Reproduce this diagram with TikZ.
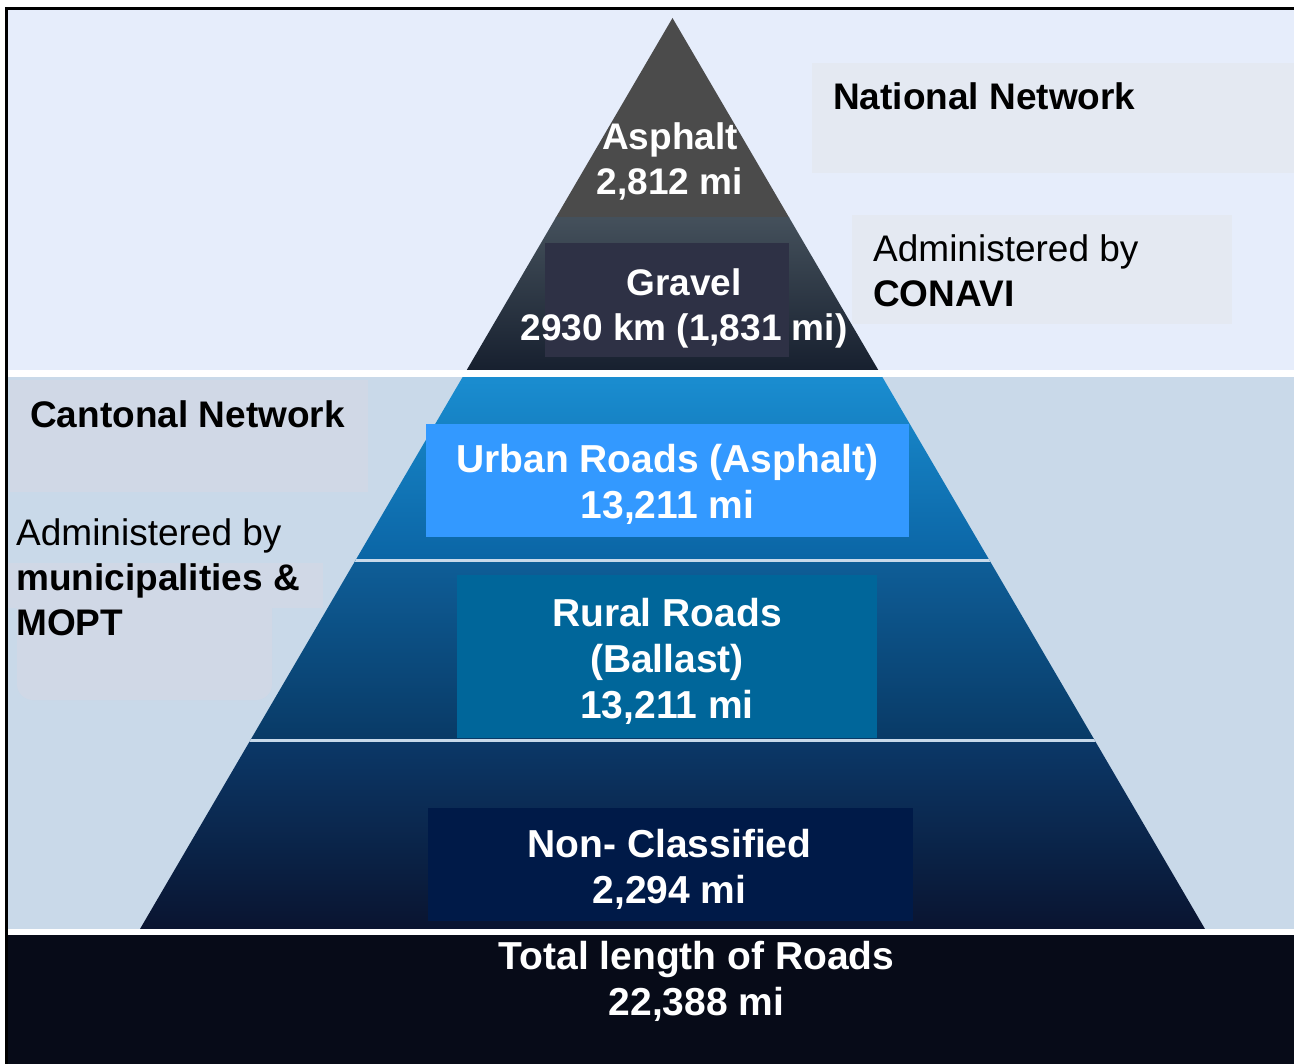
\documentclass[tikz,border=0pt]{standalone}
\usepackage{fontspec}
\setmainfont{Liberation Sans}
\definecolor{topbg}{HTML}{E6EDFB}
\definecolor{cantbg}{HTML}{C9D9E9}
\definecolor{botbg}{HTML}{070B18}
\definecolor{panelA}{HTML}{E4E9F2}
\definecolor{panelB}{HTML}{D0D8E6}
\definecolor{asphaltc}{HTML}{4B4B4B}
\definecolor{gravtop}{HTML}{44505B}
\definecolor{gravbot}{HTML}{17202F}
\definecolor{urbtop}{HTML}{1A8DD0}
\definecolor{urbbot}{HTML}{0B65A5}
\definecolor{rurtop}{HTML}{0E5E98}
\definecolor{rurbot}{HTML}{093A66}
\definecolor{nontop}{HTML}{0B3868}
\definecolor{nonbot}{HTML}{0A1430}
\definecolor{gravbox}{HTML}{2E3145}
\definecolor{urbbox}{HTML}{3399FF}
\definecolor{rurbox}{HTML}{00669A}
\definecolor{nonbox}{HTML}{001A48}
\definecolor{sepc}{HTML}{C8D9EA}
\begin{document}
\begin{tikzpicture}[x=1pt,y=-1pt,
  wlbl/.style={text=white,font=\bfseries\fontsize{39}{46}\selectfont,align=center,inner sep=0pt},
  wlbls/.style={wlbl,font=\bfseries\fontsize{37}{45}\selectfont},
  blbl/.style={text=black,font=\fontsize{37}{45}\selectfont,align=left,inner sep=0pt},
  bblbl/.style={blbl,font=\bfseries\fontsize{37}{45}\selectfont},
  sepline/.style={draw=sepc,line width=3pt}]
\useasboundingbox (0,0) rectangle (1294,1064);
% backgrounds
\fill[white] (0,0) rectangle (1294,1064);
\fill[topbg] (8,9) rectangle (1294,370);
\fill[cantbg] (8,377) rectangle (1294,929);
\fill[botbg] (8,935) rectangle (1294,1064);
% side panels
\fill[panelA] (812,63) rectangle (1294,173);
\fill[panelA] (852,215) rectangle (1232,324);
\fill[panelB] (10,380) rectangle (368,492);
\fill[panelB] (8,563) rectangle (323,608);
\fill[panelB, rounded corners=16pt] (17,563) rectangle (272,700);
% pyramid
\coordinate (apex) at (672.5,18);
\coordinate (bl) at (140,929);
\coordinate (br) at (1205,929);
\begin{scope}
\clip (apex) -- (br) -- (bl) -- cycle;
\fill[asphaltc] (0,0) rectangle (1294,218);
\shade[top color=gravtop,bottom color=gravbot] (0,218) rectangle (1294,370);
\shade[top color=urbtop,bottom color=urbbot] (0,377) rectangle (1294,560);
\shade[top color=rurtop,bottom color=rurbot] (0,560) rectangle (1294,740);
\shade[top color=nontop,bottom color=nonbot] (0,740) rectangle (1294,929);
\draw[sepline] (0,560.5) -- (1294,560.5);
\draw[sepline] (0,740.5) -- (1294,740.5);
\end{scope}
% white separators
\fill[white] (8,370) rectangle (1294,377);
\fill[white] (8,929) rectangle (1294,935);
% borders
\fill[black] (5,7) rectangle (1294,10);
\fill[black] (5,7) rectangle (8,1064);
% label boxes
\fill[gravbox] (545,243) rectangle (789,357);
\fill[urbbox] (426,424) rectangle (909,537);
\fill[rurbox] (457,575) rectangle (877,738);
\fill[nonbox] (428,808) rectangle (913,921);
% texts
\node[wlbls] (asphalt) at (670,161.9) {Asphalt\\2,812 mi};
\node[wlbls] (gravel) at (684,308.2) {Gravel\\2930 km (1,831 mi)};
\node[wlbl] (urban) at (667.5,483.9) {Urban Roads (Asphalt)\\13,211 mi};
\node[wlbl] (rural) at (667,661) {Rural Roads\\(Ballast)\\13,211 mi};
\node[wlbl] (noncl) at (669.5,868.9) {Non- Classified\\2,294 mi};
\node[wlbl] (total) at (696.5,981.4) {Total length of Roads\\22,388 mi};
\node[bblbl,anchor=base west] (natnet) at (833,110) {National Network};
\node[blbl,anchor=west] (conavi) at (873,270.5) {Administered by\\\textbf{CONAVI}};
\node[bblbl,anchor=base west] (cantnet) at (30,428) {Cantonal Network};
\node[blbl,anchor=west] (muni) at (16,577) {Administered by\\\textbf{municipalities \&}\\\textbf{MOPT}};
\end{tikzpicture}
\end{document}
